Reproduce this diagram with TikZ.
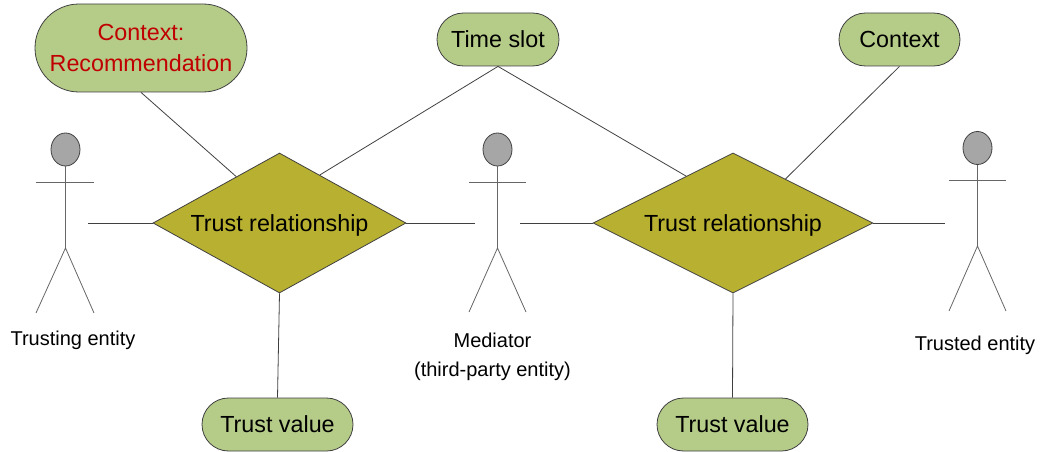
\documentclass[tikz,border=0pt]{standalone}
\usepackage{fontspec}
\setmainfont{Liberation Sans}
\usetikzlibrary{shapes.geometric,shapes.misc}
\definecolor{attrgreen}{HTML}{B5CB88}
\definecolor{relolive}{HTML}{B8B030}
\definecolor{headgray}{HTML}{A6A6A6}
\definecolor{ctxred}{HTML}{C00000}
\definecolor{linegray}{HTML}{404040}
\tikzset{
    attr/.style={shape=rounded rectangle, draw=linegray, fill=attrgreen, line width=0.8pt, inner sep=0pt, font=\fontsize{23.3}{26}\selectfont},
    rel/.style={shape=diamond, shape aspect=2, draw=linegray, fill=relolive, line width=0.8pt, inner sep=0pt, minimum height=140pt, text height=16.7pt, text depth=0pt, font=\fontsize{23.3}{26}\selectfont},
    head/.style={shape=ellipse, draw=linegray, fill=headgray, line width=0.8pt, inner sep=0pt, minimum width=29pt, minimum height=33pt},
    caption/.style={align=center, inner sep=0pt, font=\fontsize{20}{29}\selectfont},
    link/.style={draw=linegray, line width=0.8pt},
    limb/.style={draw=linegray!80, line width=0.8pt}
}
\begin{document}
\begin{tikzpicture}[x=1pt, y=-1pt]
    \useasboundingbox (0,0) rectangle (1045,452);
    % attributes
    \node[attr, minimum width=212pt, minimum height=88pt, align=center, text=ctxred] at (141,48) (ctxrec) {Context:\\[5pt]Recommendation};
    \node[attr, minimum width=122pt, minimum height=53pt] at (498,39.5) (slot) {Time slot};
    \node[attr, minimum width=121pt, minimum height=53pt] at (899.5,39.5) (ctx) {Context};
    \node[attr, minimum width=151pt, minimum height=53pt] at (277.5,424.5) (val1) {Trust value};
    \node[attr, minimum width=151pt, minimum height=53pt] at (732.5,424.5) (val2) {Trust value};
    % relationships
    \node[rel, minimum width=253pt] at (279.5,223) (rel1) {Trust relationship};
    \node[rel, minimum width=280pt] at (733,223) (rel2) {Trust relationship};
    % trusting entity
    \node[head] at (65.5,149.5) (head1) {};
    \coordinate (hip1) at (65.5,248);
    \coordinate (port1) at (88,223);
    \draw[limb] (36,182) -- (94,182);
    \draw[limb] (head1) -- (hip1);
    \draw[limb] (36,313) -- (hip1) -- (94,313);
    \node[caption] at (73,340.5) (name1) {Trusting entity};
    % mediator
    \node[head] at (497.5,149.5) (head2) {};
    \coordinate (hip2) at (497.5,248);
    \coordinate (port2a) at (475,223);
    \coordinate (port2b) at (520,223);
    \draw[limb] (469,182) -- (526,182);
    \draw[limb] (head2) -- (hip2);
    \draw[limb] (469,312) -- (hip2) -- (526,312);
    \node[caption] at (492.5,356.5) (name2) {Mediator\\(third-party entity)};
    % trusted entity
    \node[head] at (977.5,148) (head3) {};
    \coordinate (hip3) at (977.5,246);
    \coordinate (port3) at (945,223);
    \draw[limb] (949,180) -- (1006,180);
    \draw[limb] (head3) -- (hip3);
    \draw[limb] (949,311) -- (hip3) -- (1006,311);
    \node[caption] at (975,345) (name3) {Trusted entity};
    % connectors
    \path[link] (ctxrec.south) -- (rel1.133);
    \path[link] (slot.south) -- (rel1.50);
    \path[link] (slot.south) -- (rel2.135);
    \path[link] (ctx.south) -- (rel2.40);
    \path[link] (port1) -- (rel1.west);
    \path[link] (rel1.east) -- (port2a);
    \path[link] (port2b) -- (rel2.west);
    \path[link] (rel2.east) -- (port3);
    \path[link] (rel1.south) -- (val1.north);
    \path[link] (rel2.south) -- (val2.north);
\end{tikzpicture}
\end{document}
